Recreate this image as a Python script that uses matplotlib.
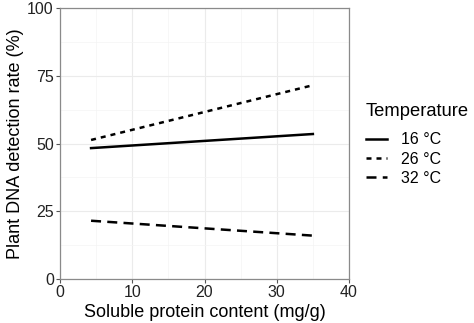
import matplotlib
matplotlib.use("Agg")
import matplotlib.pyplot as plt
from matplotlib.ticker import MultipleLocator

plt.rcParams['font.family'] = ['Liberation Sans', 'DejaVu Sans']

labels = ["16 °C", "26 °C", "32 °C"]
x_start, x_end = 4.3, 35.0
y_start = [48.3, 51.3, 21.5]
y_end = [53.5, 71.5, 16.0]
styles = ["-", (0, (2.0, 2.0)), (0, (4.0, 2.5))]

fig = plt.figure(figsize=(4.74, 3.23), dpi=100)
ax = fig.add_axes([60/474, 1-279/323, 289/474, 271/323])

for lab, ys, ye, ls in zip(labels, y_start, y_end, styles):
    ax.plot([x_start, x_end], [ys, ye], color="black", lw=1.8, linestyle=ls, label=lab)

ax.set_xlim(0, 40)
ax.set_ylim(0, 100)
ax.xaxis.set_major_locator(MultipleLocator(10))
ax.xaxis.set_minor_locator(MultipleLocator(5))
ax.yaxis.set_major_locator(MultipleLocator(25))
ax.yaxis.set_minor_locator(MultipleLocator(12.5))
ax.grid(which="major", color="#ebebeb", lw=0.8)
ax.grid(which="minor", color="#f4f4f4", lw=0.5)
ax.set_axisbelow(True)
for s in ax.spines.values():
    s.set_color("#8a8a8a")
    s.set_linewidth(0.9)
ax.tick_params(which="major", length=3, color="#555555", labelsize=11.5, labelcolor="#222222", pad=1.5)
ax.tick_params(which="minor", length=0)
ax.set_xlabel("Soluble protein content (mg/g)", fontsize=13, labelpad=3)
ax.set_ylabel("Plant DNA detection rate (%)", fontsize=13, labelpad=2)

leg = fig.legend(title="Temperature", loc="upper left", bbox_to_anchor=(366/474, 1-103/323),
                 bbox_transform=fig.transFigure,
                 frameon=False, fontsize=11.5, title_fontsize=13.2, handlelength=1.3,
                 handletextpad=0.9, labelspacing=0.26, alignment="left", borderaxespad=0,
                 borderpad=0)
leg._legend_box.sep = 9

fig.savefig("out.png", dpi=100)
